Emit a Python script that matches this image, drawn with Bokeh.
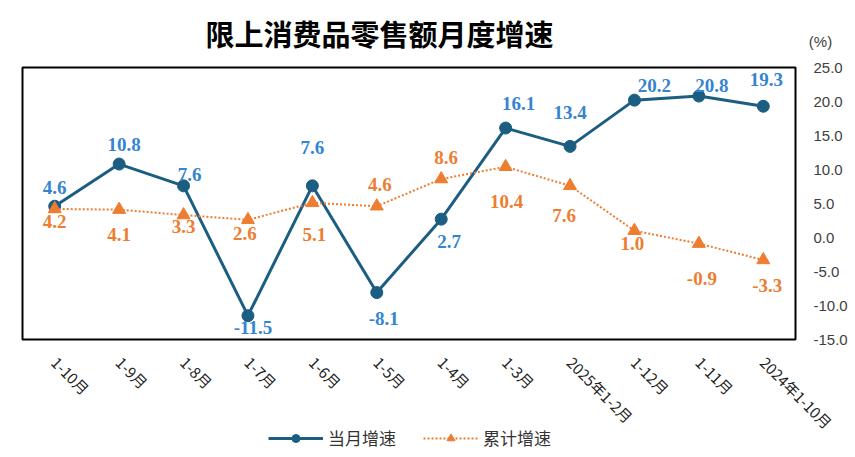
import math
from bokeh.plotting import figure
from bokeh.models import (Range1d, FixedTicker, ColumnDataSource, BoxAnnotation,
                          Legend, LegendItem, Label, NumeralTickFormatter)
from bokeh.core.properties import value
from bokeh.embed import file_html
from bokeh.resources import INLINE

# ---------------- data ----------------
categories = ["1-10月", "1-9月", "1-8月", "1-7月", "1-6月", "1-5月", "1-4月", "1-3月",
              "2025年1-2月", "1-12月", "1-11月", "2024年1-10月"]
monthly_growth = [4.6, 10.8, 7.6, -11.5, 7.6, -8.1, 2.7, 16.1, 13.4, 20.2, 20.8, 19.3]
cumulative_growth = [4.2, 4.1, 3.3, 2.6, 5.1, 4.6, 8.6, 10.4, 7.6, 1.0, -0.9, -3.3]
y_ticks = [-15, -10, -5, 0, 5, 10, 15, 20, 25]
title_text = "限上消费品零售额月度增速"
series_names = ["当月增速", "累计增速"]
unit_text = "(%)"

# ---------------- style / layout ----------------
BLUE_LINE = "#1b5e82"
BLUE_TEXT = "#3484d0"
ORANGE = "#ed7d31"
CJK = "Noto Sans CJK SC"
W, H = 855, 457
BOX_L, BOX_R, BOX_T, BOX_B = 22, 795, 67, 339      # plot box in pixels
Y_MIN, Y_MAX = y_ticks[0], y_ticks[-1]

n = len(categories)
x_idx = list(range(n))
x_lo, x_hi = -0.5, n - 0.5
sx = (BOX_R - BOX_L) / (x_hi - x_lo)
sy = (BOX_B - BOX_T) / (Y_MAX - Y_MIN)

# label offsets in screen pixels (dy positive = down)
blue_dx = [0, 5, 6, 5, 0, 7, 8, 13, 0, 20, 13, 3]
blue_dy = [-19, -20, -11, 12, -38, 26, 22, -25, -34, -15, -11, -27]
orange_dx = [0, 0, 0, -3, 2, 3, 5, 1, -6, -2, 3, 4]
orange_dy = [13, 25, 11, 14, 32, -22, -22, 35, 30, 13, 35, 26]

p = figure(x_range=Range1d(x_lo - BOX_L / sx, x_hi + (W - BOX_R) / sx),
           y_range=Range1d(Y_MIN - (H - BOX_B) / sy, Y_MAX + BOX_T / sy),
           width=W, height=H, output_backend="svg", toolbar_location=None,
           y_axis_location="right",
           min_border=0, min_border_left=0, min_border_right=0,
           min_border_top=0, min_border_bottom=0)
p.title.text = ""
p.title.visible = False
p.background_fill_color = "white"
p.border_fill_color = "white"
p.outline_line_color = None
p.xgrid.grid_line_color = None
p.ygrid.grid_line_color = None

p.add_layout(BoxAnnotation(left=x_lo, right=x_hi, bottom=Y_MIN, top=Y_MAX,
                           fill_alpha=0, line_color="black", line_alpha=1.0, line_width=2))

yax = p.yaxis[0]
yax.fixed_location = x_hi
yax.ticker = FixedTicker(ticks=y_ticks)
yax.formatter = NumeralTickFormatter(format="0.0")
yax.axis_line_color = None
yax.major_tick_line_color = None
yax.minor_tick_line_color = None
yax.major_label_text_font = "Liberation Sans"
yax.major_label_text_font_size = "15px"
yax.major_label_text_color = "#404040"
yax.major_label_standoff = 12

xax = p.xaxis[0]
xax.fixed_location = Y_MIN
xax.ticker = FixedTicker(ticks=x_idx)
xax.major_label_overrides = {i: c for i, c in zip(x_idx, categories)}
xax.axis_line_color = None
xax.major_tick_line_color = None
xax.minor_tick_line_color = None
xax.major_label_orientation = -math.pi / 4
xax.major_label_standoff = 14
xax.major_label_text_font = CJK
xax.major_label_text_font_size = "15px"
xax.major_label_text_color = "#222222"

src_m = ColumnDataSource(dict(x=x_idx, y=monthly_growth,
                              t=[f"{v:.1f}" for v in monthly_growth], dx=blue_dx, dy=blue_dy))
src_c = ColumnDataSource(dict(x=x_idx, y=cumulative_growth,
                              t=[f"{v:.1f}" for v in cumulative_growth], dx=orange_dx, dy=orange_dy))

r1 = p.line("x", "y", source=src_m, line_color=BLUE_LINE, line_width=3)
r1m = p.scatter("x", "y", source=src_m, marker="circle", size=12,
                fill_color=BLUE_LINE, line_color=BLUE_LINE)
r2 = p.line("x", "y", source=src_c, line_color=ORANGE, line_width=2, line_dash="2 2")
r2m = p.scatter("x", "y", source=src_c, marker="triangle", size=13,
                fill_color=ORANGE, line_color=ORANGE)

p.text("x", "y", text="t", source=src_m, x_offset="dx", y_offset="dy",
       text_align="center", text_baseline="middle", text_color=BLUE_TEXT,
       text_font=value("Liberation Serif"), text_font_style="bold", text_font_size="19px")
p.text("x", "y", text="t", source=src_c, x_offset="dx", y_offset="dy",
       text_align="center", text_baseline="middle", text_color=ORANGE,
       text_font=value("Liberation Serif"), text_font_style="bold", text_font_size="19px")

# title and unit as text annotations (screen units measured from bottom-left)
p.add_layout(Label(x=379, y=H - 32, x_units="screen", y_units="screen", text=title_text,
                   text_align="center", text_baseline="middle", text_font=CJK,
                   text_font_size="29px", text_font_style="bold", text_color="black"))
p.add_layout(Label(x=820, y=H - 41, x_units="screen", y_units="screen", text=unit_text,
                   text_align="center", text_baseline="middle",
                   text_font="Liberation Sans", text_font_size="15px", text_color="#404040"))

legend = Legend(items=[LegendItem(label=series_names[0], renderers=[r1, r1m]),
                       LegendItem(label=series_names[1], renderers=[r2, r2m])],
                orientation="horizontal", location=(268, 7),
                glyph_width=55, glyph_height=20, label_standoff=5, spacing=27,
                padding=2, margin=0, border_line_color=None, background_fill_alpha=0,
                label_text_font=CJK, label_text_font_size="17px", label_text_color="#333333")
p.add_layout(legend)

open("out.html", "w").write(file_html(p, INLINE))
